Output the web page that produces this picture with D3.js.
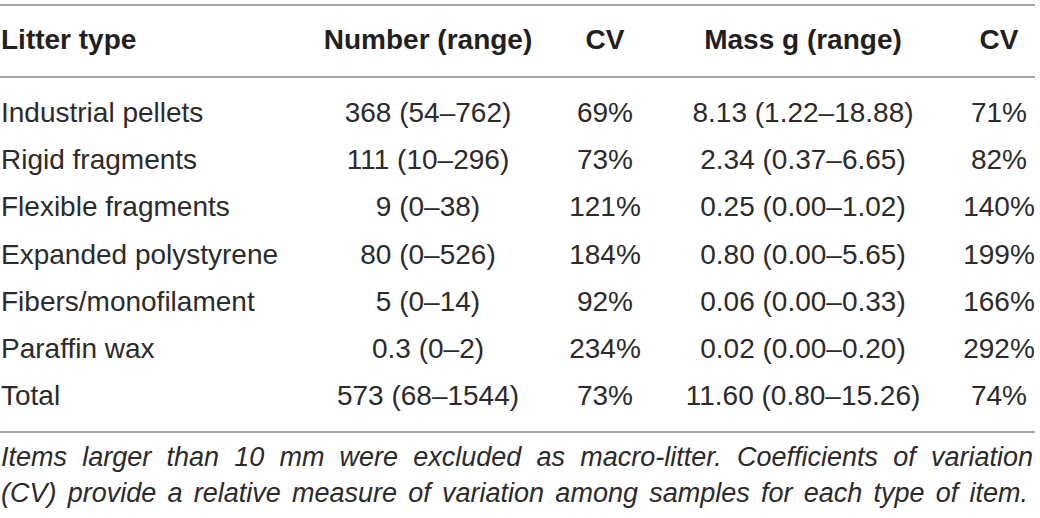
<!DOCTYPE html>
<html>
<head>
<meta charset="utf-8">
<script src="https://cdn.jsdelivr.net/npm/d3@7"></script>
<style>
  html, body { margin: 0; padding: 0; background: #fff; }
  svg { display: block; }
  text { font-family: "Liberation Sans", Arial, Helvetica, sans-serif; fill: #231f20; }
</style>
</head>
<body>
<svg id="tbl" width="1040" height="518"></svg>
<script>
// table content
var headers = ["Litter type", "Number (range)", "CV", "Mass g (range)", "CV"];
var litterTypes = ["Industrial pellets", "Rigid fragments", "Flexible fragments",
  "Expanded polystyrene", "Fibers/monofilament", "Paraffin wax", "Total"];
var numberRange = ["368 (54\u2013762)", "111 (10\u2013296)", "9 (0\u201338)", "80 (0\u2013526)",
  "5 (0\u201314)", "0.3 (0\u20132)", "573 (68\u20131544)"];
var numberCV = ["69%", "73%", "121%", "184%", "92%", "234%", "73%"];
var massRange = ["8.13 (1.22\u201318.88)", "2.34 (0.37\u20136.65)", "0.25 (0.00\u20131.02)",
  "0.80 (0.00\u20135.65)", "0.06 (0.00\u20130.33)", "0.02 (0.00\u20130.20)", "11.60 (0.80\u201315.26)"];
var massCV = ["71%", "82%", "140%", "199%", "166%", "292%", "74%"];
var footnote = [
  "Items larger than 10 mm were excluded as macro-litter. Coefficients of variation",
  "(CV) provide a relative measure of variation among samples for each type of item."
];

var svg = d3.select("#tbl");
var ruleRight = 1035;
var fontSize = 28;

// column x positions (first column left aligned, others centred)
var colX = [1, 428, 605, 803, 999];
var colAnchor = ["start", "middle", "middle", "middle", "middle"];
var columns = [litterTypes, numberRange, numberCV, massRange, massCV];

// row baselines
var y = d3.scalePoint()
  .domain(d3.range(litterTypes.length))
  .range([122, 405]);

// rules
var rules = [5, 77, 432];
svg.selectAll("line.rule")
  .data(rules)
  .enter().append("line")
  .attr("class", "rule")
  .attr("x1", 0)
  .attr("x2", ruleRight)
  .attr("y1", function (d) { return d; })
  .attr("y2", function (d) { return d; })
  .style("stroke", "#a6a6a6")
  .style("stroke-width", "1.8px");

// header
svg.selectAll("text.head")
  .data(headers)
  .enter().append("text")
  .attr("class", "head")
  .attr("x", function (d, i) { return colX[i]; })
  .attr("y", 49)
  .attr("text-anchor", function (d, i) { return colAnchor[i]; })
  .style("font-size", fontSize + "px")
  .style("font-weight", "bold")
  .text(function (d) { return d; });

// body
columns.forEach(function (col, ci) {
  svg.selectAll("text.c" + ci)
    .data(col)
    .enter().append("text")
    .attr("class", "c" + ci)
    .attr("x", colX[ci])
    .attr("y", function (d, i) { return y(i); })
    .attr("text-anchor", colAnchor[ci])
    .style("font-size", fontSize + "px")
    .style("fill", "#2b2b2b")
    .text(function (d) { return d; });
});

// footnote, justified across the table width
var notes = svg.selectAll("text.note")
  .data(footnote)
  .enter().append("text")
  .attr("class", "note")
  .attr("x", 1)
  .attr("y", function (d, i) { return 466 + i * 36; })
  .style("font-size", "27px")
  .style("font-style", "italic")
  .style("fill", "#2b2b2b")
  .text(function (d) { return d; });

notes.each(function (d, i) {
  var natural = this.getComputedTextLength();
  var spaces = d.split(" ").length - 1;
  var target = (i === 0 ? ruleRight - 3 : ruleRight - 8);
  d3.select(this).attr("word-spacing", (target - natural) / spaces);
});
</script>
</body>
</html>
